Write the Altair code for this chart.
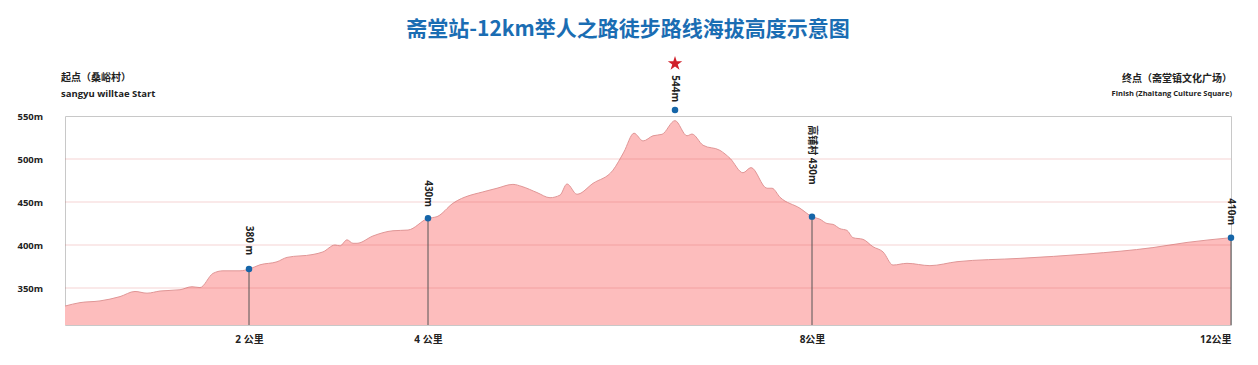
import altair as alt
import pandas as pd

# ---- data ----
km = [0, 0.163, 0.380, 0.598, 0.761, 0.891, 1.033, 1.25, 1.38, 1.467, 1.609, 1.717,
      1.902, 2.0, 2.123, 2.313, 2.425, 2.715, 2.827, 2.961, 3.017, 3.095, 3.162, 3.207,
      3.385, 3.609, 3.777, 4.0, 4.094, 4.26, 4.615, 4.719, 4.885, 4.979, 5.135, 5.271,
      5.375, 5.448, 5.552, 5.719, 5.927, 6.04, 6.146, 6.24, 6.344, 6.438, 6.573, 6.698,
      6.75, 6.865, 7.042, 7.146, 7.281, 7.365, 7.531, 7.583, 7.667, 7.875, 8.0, 8.076,
      8.143, 8.2, 8.267, 8.334, 8.391, 8.487, 8.582, 8.678, 8.773, 8.907, 9.126, 9.384,
      9.986, 10.625, 11.255, 11.58, 12.0]
elev = [329, 333, 335, 340, 346, 344, 346.5, 348, 351.5, 350.5, 367, 370,
        370, 372, 377, 380.5, 385.6, 389, 392, 400, 399, 406, 402, 402,
        410.5, 416.6, 417.4, 431, 433, 448.5, 463, 466, 470.5, 468, 461, 455,
        458, 471, 459, 471.7, 487, 508, 530, 521, 527, 528.7, 544.6, 527,
        529, 516, 510, 500.8, 484, 490, 466, 466, 455.5, 442.7, 433, 430,
        425, 424, 419, 417, 408.5, 406.6, 398, 392, 376.7, 378.7, 376, 380.6,
        384.5, 389.5, 397, 403, 408.5]

marker_km = [2, 4, 6.573, 8, 12]
marker_elev = [372, 431, 557, 433, 408.5]
marker_text = ["380 m", "430m", "544m", "高铺村 430m", "410m"]
label_elev = [388, 444, 566, 470, 423]
line_km = [2, 4, 8, 12]
line_elev = [372, 431, 433, 408.5]

peak_km = [6.573]
peak_star_elev = [611]

tick_km = [2, 4, 8, 12]
tick_labels = ["2 公里", "4 公里", "8公里", "12公里"]
y_ticks = [350, 400, 450, 500, 550]
grid_vals = [350, 400, 450, 500]
y_min = 307

title_text = "斋堂站-12km举人之路徒步路线海拔高度示意图"
start_lines = ["起点（桑峪村）", "sangyu willtae Start"]
finish_lines = ["终点（斋堂镇文化广场）", "Finish (Zhaitang Culture Square)"]

FONT = "Open Sans, Noto Sans CJK SC, sans-serif"

xscale = alt.Scale(domain=[0, 2, 4, 8, 12], range=[0, 184, 363, 747, 1166])
yscale = alt.Scale(domain=[y_min, 550], zero=False, nice=False)

label_expr = " : ".join(
    f"datum.value == {k} ? '{t}'" for k, t in zip(tick_km, tick_labels)
) + " : ''"

xaxis = alt.Axis(
    values=tick_km, labelExpr=label_expr, title=None, grid=False,
    ticks=False, domain=False, labelPadding=9, labelFontSize=10,
    labelFontWeight="bold", labelFont=FONT, labelColor="#222")
yaxis = alt.Axis(
    values=y_ticks, labelExpr="datum.value + 'm'", title=None, grid=False,
    ticks=False, domain=False, labelAlign="left", labelPadding=48,
    labelFontSize=9.5, labelFontWeight="bold", labelFont=FONT,
    labelColor="#222")


def X(field):
    return alt.X(field, scale=xscale, axis=xaxis)


def Y(field):
    return alt.Y(field, scale=yscale, axis=yaxis)


profile = pd.DataFrame({"km": km, "elev": elev})
markers = pd.DataFrame({"km": marker_km, "elev": marker_elev,
                        "label": marker_text, "lab": label_elev})
lines = pd.DataFrame({"km": line_km, "elev": line_elev})
peak = pd.DataFrame({"km": peak_km, "elev": peak_star_elev})
grid = pd.DataFrame({"elev": grid_vals})

area = alt.Chart(profile).mark_area(
    color="#fdbdbd", line={"color": "#e09696", "strokeWidth": 1}, opacity=1,
    interpolate="monotone"
).encode(x=X("km:Q"), y=Y("elev:Q"), y2=alt.datum(y_min))

gridlines = alt.Chart(grid).mark_rule(color="#d85050", opacity=0.25, strokeWidth=1.2).encode(
    y=Y("elev:Q")
)

vlines = alt.Chart(lines).mark_rule(color="#555555", strokeWidth=1).encode(
    x=X("km:Q"), y=Y("elev:Q"), y2=alt.datum(y_min)
)

dots = alt.Chart(markers).mark_point(
    filled=True, shape="circle", size=42, color="#1565a8", opacity=1
).encode(x=X("km:Q"), y=Y("elev:Q"))

labels = alt.Chart(markers).mark_text(
    angle=90, align="right", baseline="middle", fontSize=10,
    font=FONT, fontWeight="bold", color="#222"
).encode(x=X("km:Q"), y=Y("lab:Q"), text="label:N")

star = alt.Chart(peak).mark_point(
    filled=True,
    shape="M0,-1L0.2245,-0.309L0.951,-0.309L0.3633,0.118L0.5878,0.809L0,0.382L-0.5878,0.809L-0.3633,0.118L-0.951,-0.309L-0.2245,-0.309Z",
    size=230, color="#d0202a", opacity=1
).encode(x=X("km:Q"), y=Y("elev:Q"))

title = alt.Chart(pd.DataFrame({"t": [title_text]})).mark_text(
    fontSize=21, fontWeight="bold", color="#1a6db3", font="Noto Sans CJK SC, Open Sans",
    align="center", baseline="middle"
).encode(x=alt.value(563), y=alt.value(-86), text="t:N")

start1 = alt.Chart(pd.DataFrame({"t": [start_lines[0]]})).mark_text(
    fontSize=10, fontWeight="bold", color="#222", font=FONT, align="left", baseline="middle"
).encode(x=alt.value(-4), y=alt.value(-38), text="t:N")
start2 = alt.Chart(pd.DataFrame({"t": [start_lines[1]]})).mark_text(
    fontSize=9.5, fontWeight="bold", color="#222", font=FONT, align="left", baseline="middle"
).encode(x=alt.value(-4), y=alt.value(-22), text="t:N")
finish1 = alt.Chart(pd.DataFrame({"t": [finish_lines[0]]})).mark_text(
    fontSize=10, fontWeight="bold", color="#222", font=FONT, align="right", baseline="middle"
).encode(x=alt.value(1167), y=alt.value(-37), text="t:N")
finish2 = alt.Chart(pd.DataFrame({"t": [finish_lines[1]]})).mark_text(
    fontSize=7.5, fontWeight="bold", color="#222", font=FONT, align="right", baseline="middle"
).encode(x=alt.value(1167), y=alt.value(-22), text="t:N")

chart = alt.layer(
    area, gridlines, vlines, dots, labels, star, title, start1, start2, finish1, finish2
).properties(
    width=1166, height=209,
    padding={"left": 57, "top": 108, "right": 19, "bottom": 32},
    autosize=alt.AutoSizeParams(type="none"),
    background="white",
).configure_view(stroke="#c8c8c8", strokeWidth=1)

chart.save("out.html", embed_options={"renderer": "svg", "actions": False})
